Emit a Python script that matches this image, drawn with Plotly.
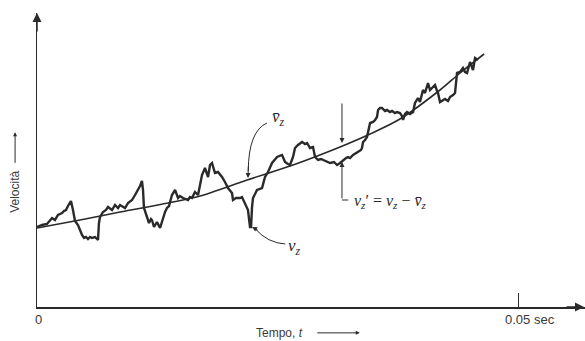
import plotly.graph_objects as go

# ---------------- data (time in ms, velocity in arbitrary units) ----------------
time_ms = [0.00, 0.52, 1.04, 1.35, 1.56, 1.87, 2.18, 2.39, 2.60, 2.81, 3.01, 3.22, 3.43, 3.53, 3.74, 3.95,
           4.26, 4.47, 4.68, 4.89, 5.09, 5.30, 5.51, 5.72, 6.03, 6.24, 6.34, 6.44, 6.55, 6.86, 7.17, 7.38,
           7.59, 7.80, 8.11, 8.42, 8.63, 8.84, 9.15, 9.46, 9.67, 9.88, 10.19, 10.50, 10.71, 10.91, 11.02,
           11.12, 11.43, 11.64, 11.85, 11.95, 12.16, 12.47, 12.79, 12.99, 13.10, 13.31, 13.51, 13.72, 14.03,
           14.35, 14.66, 14.86, 15.18, 15.49, 15.70, 15.90, 16.11, 16.42, 16.74, 17.15, 17.46, 17.78, 17.98,
           18.19, 18.50, 18.81, 19.23, 19.54, 19.85, 20.27, 20.37, 20.69, 21.10, 21.31, 21.62, 21.93, 22.14,
           22.25, 22.35, 22.45, 22.87, 23.39, 23.70, 24.01, 24.43, 24.95, 25.47, 25.78, 26.09, 26.30, 26.61,
           26.82, 27.13, 27.34, 27.55, 27.86, 28.07, 28.38, 28.69, 28.90, 29.21, 29.52, 29.73, 30.04, 30.46,
           30.87, 31.19, 31.50, 31.81, 32.12, 32.33, 32.54, 32.85, 33.16, 33.37, 33.68, 33.78, 33.89, 34.10,
           34.30, 34.62, 34.93, 35.14, 35.34, 35.45, 35.65, 35.86, 36.17, 36.38, 36.69, 36.90, 37.21, 37.42,
           37.73, 37.94, 38.05, 38.25, 38.46, 38.77, 39.09, 39.29, 39.60, 39.81, 40.12, 40.33, 40.64, 40.85,
           41.06, 41.37, 41.58, 41.68, 41.89, 42.20, 42.41, 42.72, 42.93, 43.24, 43.45, 43.66, 43.97, 44.28,
           44.49, 44.70, 45.01, 45.32, 45.53, 45.84]
velocity = [8.0, 8.2, 8.3, 8.7, 8.9, 8.7, 9.2, 9.3, 9.4, 9.6, 9.7, 10.1, 10.4, 10.6, 9.7, 8.6,
            8.2, 7.7, 7.2, 6.9, 7.0, 6.8, 7.0, 6.9, 7.0, 6.8, 6.7, 8.4, 9.0, 9.5, 9.7, 10.0,
            9.8, 9.7, 10.2, 9.9, 10.2, 10.1, 9.9, 10.4, 10.6, 10.7, 11.2, 11.7, 12.1, 12.6, 11.7,
            9.9, 9.0, 8.4, 8.8, 8.7, 8.0, 8.5, 7.9, 8.5, 9.0, 9.5, 9.9, 10.1, 11.2,
            11.7, 10.9, 11.1, 10.9, 10.8, 10.7, 11.0, 10.9, 11.5, 11.2, 13.2, 13.9, 13.0, 14.2,
            14.4, 13.4, 13.5, 13.0, 12.5, 11.9, 11.4, 10.7, 10.9, 10.9, 11.0, 10.4, 9.7, 8.0,
            8.0, 10.0, 10.9, 11.7, 11.9, 13.0, 13.5, 14.4, 15.0, 15.2, 14.5, 14.3, 14.2, 15.0,
            15.9, 16.2, 16.4, 16.5, 16.3, 16.4, 15.9, 16.0, 15.0, 14.7, 14.8, 14.7, 14.6, 14.4,
            14.5, 14.2, 14.4, 14.7, 14.9, 15.0, 14.9, 15.2, 15.4, 15.5, 15.7, 15.9, 16.5, 16.7,
            17.0, 18.4, 18.5, 18.7, 19.0, 19.7, 19.9, 19.9, 19.6, 19.7, 19.5, 19.6, 19.4, 19.5,
            19.4, 19.1, 18.7, 19.3, 19.5, 19.3, 19.5, 20.4, 20.9, 20.5, 21.7, 21.4, 22.4, 21.7,
            21.9, 22.2, 21.6, 21.4, 20.5, 20.7, 20.8, 20.6, 21.0, 21.2, 21.4, 23.4, 23.5, 23.9,
            23.5, 23.4, 24.5, 23.7, 24.9, 24.7]

mean_time_ms = [0.00, 4.47, 8.63, 13.62, 16.94, 21.83, 26.61, 31.50, 34.62, 37.73, 41.89, 43.97, 46.47]
mean_velocity = [7.9, 8.7, 9.5, 10.4, 11.1, 12.7, 14.2, 16.0, 17.3, 18.8, 21.7, 23.4, 25.3]

tick_values_ms = [0, 50]
tick_labels = ["0", "0.05 sec"]
x_title = "Tempo, <i>t</i>"
y_title = "Velocità"
label_mean = "<i>v̄<sub>z</sub></i>"
label_inst = "<i>v<sub>z</sub></i>"
label_fluct = "<i>v<sub>z</sub></i>′ = <i>v<sub>z</sub></i> − <i>v̄<sub>z</sub></i>"

INK = "#2a2a2a"
TXT = "#3a3a3a"
SERIF = "Liberation Serif, DejaVu Serif, serif"
SANS = "Liberation Sans, Arial, sans-serif"

fig = go.Figure()
fig.add_trace(go.Scatter(x=mean_time_ms, y=mean_velocity, mode="lines",
                         line=dict(color=INK, width=1.6, shape="spline", smoothing=0.8),
                         hoverinfo="skip", showlegend=False))
fig.add_trace(go.Scatter(x=time_ms, y=velocity, mode="lines",
                         line=dict(color=INK, width=2.4),
                         hoverinfo="skip", showlegend=False))

XMAX = 56.96
YMAX = 29.4
fig.update_layout(
    width=585, height=341, autosize=False,
    margin=dict(l=37, r=0, t=13, b=34, pad=0),
    paper_bgcolor="white", plot_bgcolor="white",
    hovermode=False,
    xaxis=dict(range=[0, XMAX], showgrid=False, zeroline=False, showline=True,
               linecolor=INK, linewidth=1.5, tickvals=tick_values_ms, ticks="inside",
               ticklen=14, tickwidth=1, tickcolor=INK, showticklabels=False, fixedrange=True),
    yaxis=dict(range=[0, YMAX], showgrid=False, zeroline=False, showline=True,
               linecolor=INK, linewidth=1.5, showticklabels=False, ticks="", fixedrange=True),
)

ann = []
def arrow(x, y, ax, ay, head=2, size=1.0, width=1.3):
    ann.append(dict(x=x, y=y, ax=ax, ay=ay, xref="x", yref="y", axref="x", ayref="y",
                    text="", showarrow=True, arrowhead=head, arrowsize=size, arrowwidth=width,
                    arrowcolor=INK, standoff=0, startstandoff=0))

def parrow(x, y, dx, dy, head=2, size=0.8, width=1.0):
    # paper-positioned arrow, tail offset in pixels
    ann.append(dict(x=x, y=y, ax=dx, ay=dy, xref="paper", yref="paper",
                    text="", showarrow=True, arrowhead=head, arrowsize=size, arrowwidth=width,
                    arrowcolor=INK, standoff=0, startstandoff=0))

def label(x, y, text, size=13, family=SANS, xanchor="center", angle=0, color=TXT):
    ann.append(dict(x=x, y=y, xref="x", yref="y", text=text, showarrow=False,
                    xanchor=xanchor, yanchor="middle", textangle=angle,
                    font=dict(family=family, size=size, color=color)))

def plabel(x, y, text, size=13, family=SANS, xanchor="center", angle=0, color=TXT):
    ann.append(dict(x=x, y=y, xref="paper", yref="paper", text=text, showarrow=False,
                    xanchor=xanchor, yanchor="middle", textangle=angle,
                    font=dict(family=family, size=size, color=color)))

# axis arrowheads
parrow(1.0, 0.0, -20, 0, size=1.2, width=1.5)
arrow(0, YMAX, 0, YMAX - 2.0, head=2, size=1.2, width=1.5)

# tick labels and axis titles (placed outside the plotting area)
plabel(0.002, -0.044, tick_labels[0], size=13)
plabel(0.90, -0.044, tick_labels[1], size=13)
plabel(0.442, -0.088, x_title, size=12)
parrow(0.589, -0.088, -44, 0)
plabel(-0.040, 0.392, y_title, size=12, angle=-90)
parrow(-0.040, 0.594, 0, 32)

# math labels
label(25.1, 18.9, label_mean, size=17, family=SERIF, color=INK)
label(26.8, 6.0, label_inst, size=17, family=SERIF, color=INK)
label(32.7, 10.6, label_fluct, size=16, family=SERIF, xanchor="left", color=INK)

# v_z' indicator arrows
arrow(31.70, 16.4, 31.70, 20.5, head=2, size=1.0, width=1.0)
arrow(31.70, 14.5, 31.70, 10.7, head=2, size=1.0, width=1.0)

# arrowheads of curved leaders
arrow(21.93, 12.9, 21.98, 14.2, head=2, size=1.0, width=1.0)
arrow(22.35, 8.0, 23.1, 7.6, head=2, size=1.0, width=1.0)

fig.update_layout(annotations=ann)

shapes = [
    dict(type="line", xref="x", yref="y", x0=31.70, y0=10.7, x1=32.35, y1=10.7,
         line=dict(color=INK, width=1.0)),
    dict(type="path", xref="x", yref="y", path="M 23.9,18.4 Q 22.0,17.6 21.95,13.6",
         line=dict(color=INK, width=1.0)),
    dict(type="path", xref="x", yref="y", path="M 25.8,6.3 Q 24.0,6.4 22.7,7.8",
         line=dict(color=INK, width=1.0)),
]
fig.update_layout(shapes=shapes)

fig.write_html("out.html", config={"displayModeBar": False, "staticPlot": True},
               post_script="document.body.style.margin='0';document.body.style.overflow='hidden';")
